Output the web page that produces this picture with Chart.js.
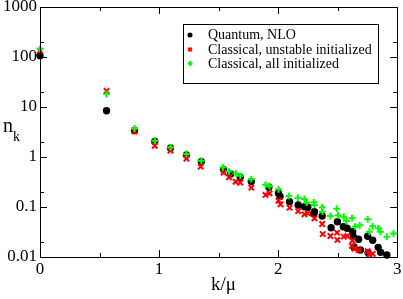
<!DOCTYPE html>
<html>
<head>
<meta charset="utf-8">
<script src="https://cdn.jsdelivr.net/npm/chart.js@4/dist/chart.umd.min.js"></script>
<style>html,body{margin:0;padding:0;background:#fff;}canvas{display:block;}</style>
</head>
<body>
<canvas id="c" width="403" height="299"></canvas>
<script>
// ---- data ----
const seriesLabels = ["Quantum, NLO", "Classical, unstable initialized", "Classical, all initialized"];

const quantumK = [0, 0.559, 0.794, 0.964, 1.096, 1.23, 1.355, 1.542, 1.601, 1.682, 1.775, 1.922, 2.003, 2.016, 2.096, 2.168, 2.221, 2.249, 2.299, 2.305, 2.37, 2.445, 2.498, 2.548, 2.579, 2.626, 2.632, 2.637, 2.676, 2.691, 2.752, 2.756, 2.794, 2.84, 2.861, 2.913];
const quantumN = [106, 8.4, 3.4, 2.04, 1.51, 1.10, 0.81, 0.56, 0.457, 0.393, 0.324, 0.248, 0.188, 0.162, 0.128, 0.11, 0.101, 0.0987, 0.0724, 0.0805, 0.066, 0.0385, 0.0508, 0.0404, 0.0375, 0.032, 0.0255, 0.0158, 0.0227, 0.0138, 0.026, 0.0121, 0.0216, 0.0156, 0.0124, 0.011];

const unstableK = [0, 0.559, 0.794, 0.964, 1.096, 1.23, 1.35, 1.542, 1.587, 1.643, 1.682, 1.775, 1.894, 1.928, 2.003, 2.02, 2.096, 2.168, 2.221, 2.249, 2.305, 2.37, 2.375, 2.439, 2.495, 2.498, 2.552, 2.582, 2.624, 2.62, 2.64, 2.678, 2.752, 2.766, 2.794];
const unstableN = [134, 20.9, 3.24, 1.68, 1.34, 0.925, 0.64, 0.49, 0.393, 0.32, 0.306, 0.243, 0.174, 0.188, 0.134, 0.113, 0.097, 0.083, 0.0715, 0.0748, 0.0594, 0.0457, 0.0288, 0.0263, 0.0306, 0.0219, 0.0255, 0.0263, 0.0212, 0.0167, 0.0147, 0.0138, 0.0131, 0.0113, 0.0116];

const allK = [0, 0.559, 0.794, 0.964, 1.096, 1.23, 1.355, 1.536, 1.587, 1.643, 1.682, 1.775, 1.894, 1.928, 2.003, 2.09, 2.165, 2.221, 2.241, 2.299, 2.305, 2.37, 2.372, 2.439, 2.492, 2.504, 2.551, 2.573, 2.621, 2.646, 2.685, 2.752, 2.766, 2.794, 2.842, 2.858, 2.913, 2.969];
const allN = [145, 18.2, 3.75, 2.12, 1.56, 1.15, 0.84, 0.62, 0.51, 0.47, 0.42, 0.36, 0.28, 0.26, 0.226, 0.166, 0.153, 0.145, 0.122, 0.124, 0.11, 0.0987, 0.0805, 0.066, 0.0925, 0.068, 0.064, 0.0525, 0.060, 0.0404, 0.043, 0.0568, 0.032, 0.041, 0.0375, 0.032, 0.0255, 0.0295];

const xTickValues = [0, 1, 2, 3];
const xMinorValues = [0.5, 1.5, 2.5];
const yTickValues = [0.01, 0.1, 1, 10, 100, 1000];
const yMinorValues = [0.02, 0.2, 2, 20, 200];
const yTickLabels = ["0.01", "0.1", "1", "10", "100", "1000"];

// ---- chart ----
const toPts = (xs, ys) => xs.map((v, i) => ({x: v, y: ys[i]}));
const SERIF = "'Liberation Serif', 'Times New Roman', serif";

const framePlugin = {
  id: 'frame',
  afterDraw(chart) {
    const ctx = chart.ctx;
    const a = chart.chartArea;
    const xs = chart.scales.x, ys = chart.scales.y;
    ctx.save();
    ctx.strokeStyle = '#000';
    ctx.lineWidth = 1;
    ctx.strokeRect(Math.round(a.left) + 0.5, Math.round(a.top) + 0.5, Math.round(a.right - a.left), Math.round(a.bottom - a.top));
    const tick = (vals, len, isX) => {
      ctx.beginPath();
      vals.forEach(v => {
        if (isX) {
          const p = Math.round(xs.getPixelForValue(v)) + 0.5;
          ctx.moveTo(p, a.bottom); ctx.lineTo(p, a.bottom - len);
          ctx.moveTo(p, a.top); ctx.lineTo(p, a.top + len);
        } else {
          const p = Math.round(ys.getPixelForValue(v)) + 0.5;
          ctx.moveTo(a.left, p); ctx.lineTo(a.left + len, p);
          ctx.moveTo(a.right, p); ctx.lineTo(a.right - len, p);
        }
      });
      ctx.stroke();
    };
    tick(xTickValues, 7, true);
    tick(xMinorValues, 4, true);
    tick(yTickValues, 7, false);
    tick(yMinorValues, 4, false);

    // axis titles
    ctx.fillStyle = '#000';
    ctx.textBaseline = 'alphabetic';
    ctx.textAlign = 'left';
    ctx.font = "20px " + SERIF;
    ctx.fillText('n', 3, 132);
    ctx.font = "14px " + SERIF;
    ctx.fillText('k', 13, 141);
    ctx.font = "19px " + SERIF;
    ctx.fillText('k/\u03bc', 211, 290);

    // legend
    const lx = 183.5, ly = 24.5, lw = 195, lh = 59;
    ctx.strokeRect(lx, ly, lw, lh);
    ctx.font = "14px " + SERIF;
    ctx.textBaseline = 'middle';
    const rows = [35, 49.5, 63.5];
    chart.data.datasets.forEach((ds, i) => {
      const cy = rows[i], cx = 190;
      ctx.save();
      ctx.fillStyle = ds.backgroundColor;
      ctx.strokeStyle = ds.borderColor;
      ctx.lineWidth = 2;
      if (i === 0) {
        ctx.beginPath(); ctx.arc(cx, cy, 2.5, 0, Math.PI * 2); ctx.fill();
      } else if (i === 1) {
        ctx.beginPath();
        ctx.moveTo(cx - 1.8, cy - 1.8); ctx.lineTo(cx + 1.8, cy + 1.8);
        ctx.moveTo(cx + 1.8, cy - 1.8); ctx.lineTo(cx - 1.8, cy + 1.8);
        ctx.stroke();
      } else {
        ctx.beginPath();
        ctx.moveTo(cx - 2.5, cy); ctx.lineTo(cx + 2.5, cy);
        ctx.moveTo(cx, cy - 2.5); ctx.lineTo(cx, cy + 2.5);
        ctx.stroke();
      }
      ctx.restore();
      ctx.fillStyle = '#000';
      ctx.fillText(ds.label, 208, cy + 0.5);
    });
    ctx.restore();
  }
};

new Chart(document.getElementById('c'), {
  type: 'scatter',
  data: {
    datasets: [
      {label: seriesLabels[0], data: toPts(quantumK, quantumN), pointStyle: 'circle', pointRadius: 3.7, pointHoverRadius: 3.7,
       backgroundColor: '#000000', borderColor: '#000000', borderWidth: 0, order: 3, clip: false},
      {label: seriesLabels[1], data: toPts(unstableK, unstableN), pointStyle: 'crossRot', pointRadius: 3.8, pointHoverRadius: 3.8,
       backgroundColor: '#ff0000', borderColor: '#ff0000', borderWidth: 2, order: 2, clip: false},
      {label: seriesLabels[2], data: toPts(allK, allN), pointStyle: 'cross', pointRadius: 3.4, pointHoverRadius: 3.4,
       backgroundColor: '#00ff00', borderColor: '#00ff00', borderWidth: 2, order: 1, clip: false}
    ]
  },
  options: {
    responsive: false,
    animation: false,
    events: [],
    layout: {padding: {top: 7, right: 5, left: 0, bottom: 0}},
    plugins: {legend: {display: false}, tooltip: {enabled: false}},
    scales: {
      x: {
        type: 'linear', min: 0, max: 3,
        grid: {display: false, drawTicks: false},
        border: {display: false},
        afterBuildTicks(s) { s.ticks = xTickValues.map(v => ({value: v})); },
        afterFit(s) { s.height = 42; s.paddingLeft = 0; s.paddingRight = 0; },
        ticks: {color: '#000', font: {family: SERIF, size: 17}, padding: 2, maxRotation: 0, autoSkip: false,
                callback: (v) => String(v)}
      },
      y: {
        type: 'logarithmic', min: 0.01, max: 1000,
        grid: {display: false, drawTicks: false},
        border: {display: false},
        afterBuildTicks(s) { s.ticks = yTickValues.map(v => ({value: v})); },
        afterFit(s) { s.width = 40; s.paddingTop = 0; s.paddingBottom = 0; },
        ticks: {color: '#000', font: {family: SERIF, size: 17}, padding: 3, autoSkip: false,
                callback: (v) => { const i = yTickValues.indexOf(v); return i >= 0 ? yTickLabels[i] : ''; }}
      }
    }
  },
  plugins: [framePlugin]
});
</script>
</body>
</html>
